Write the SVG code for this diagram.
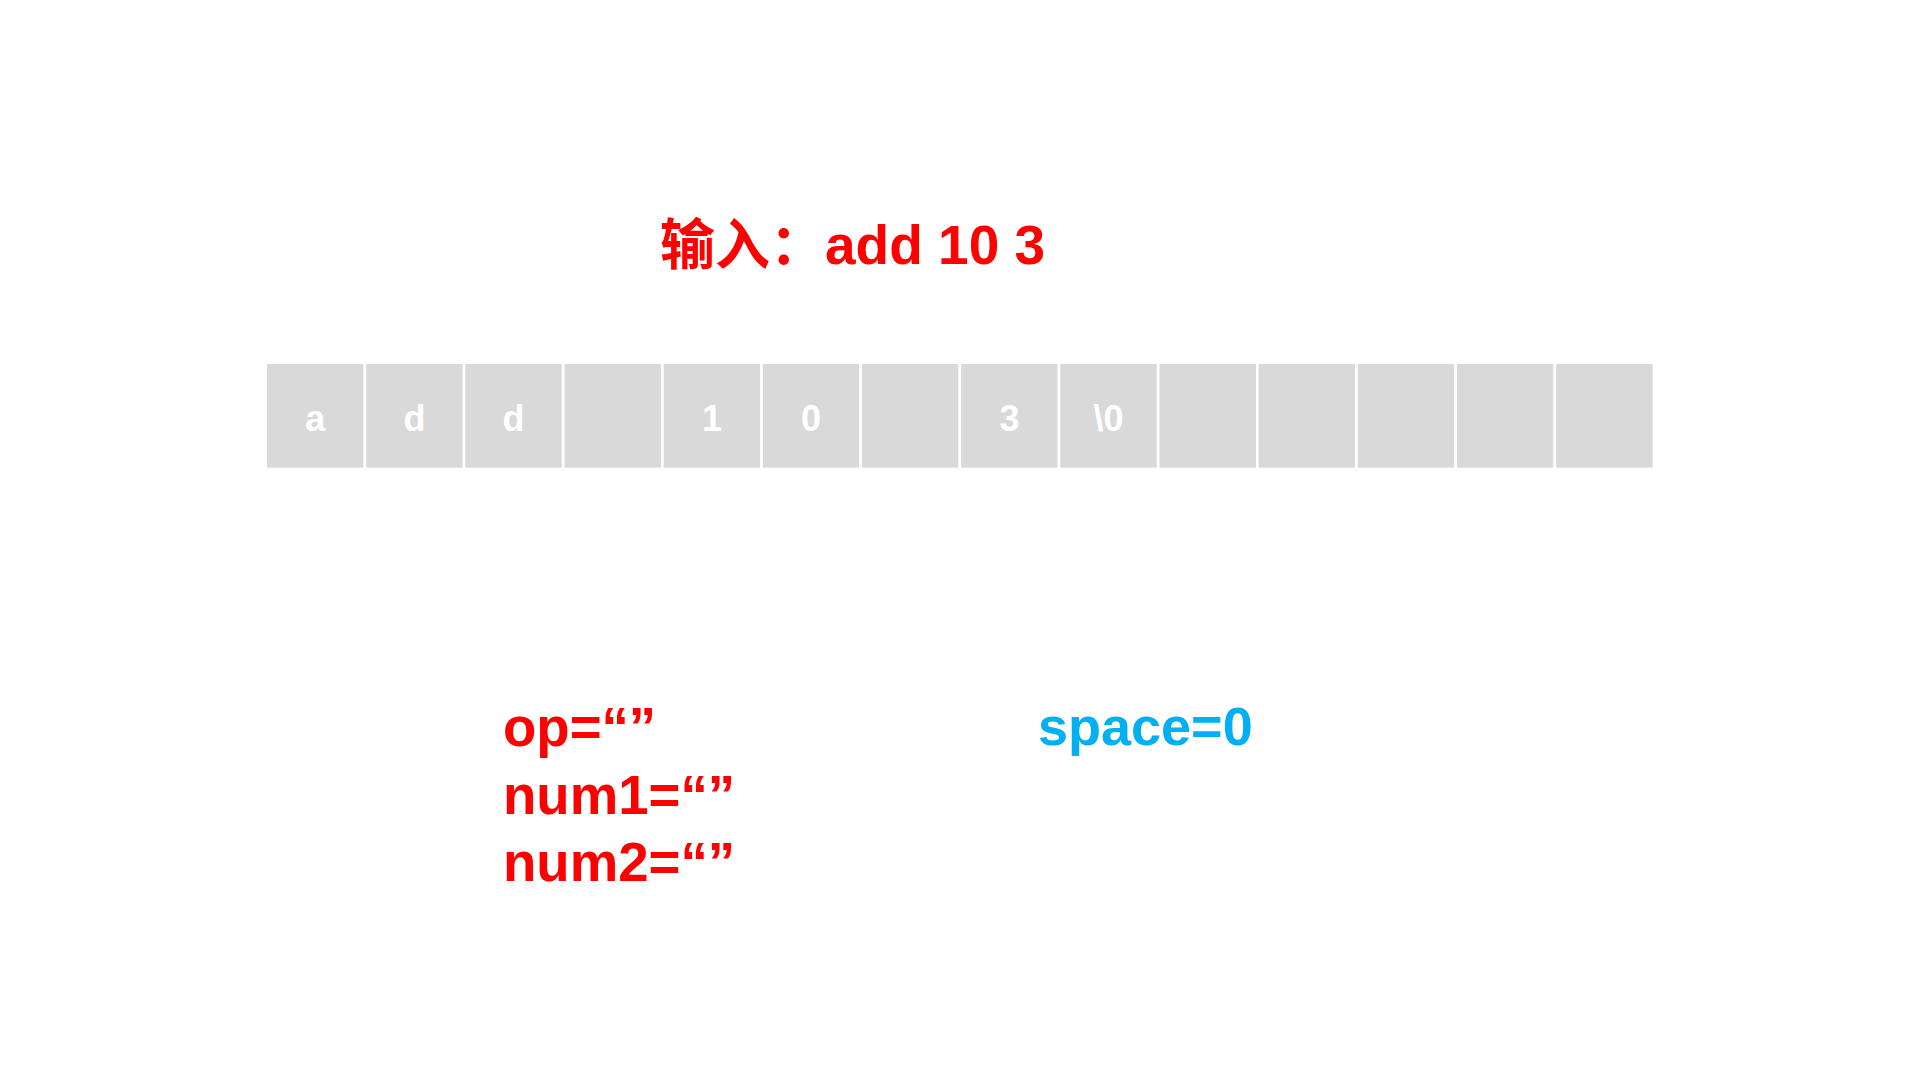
<svg xmlns="http://www.w3.org/2000/svg" width="1920" height="1080" viewBox="0 0 1920 1080">
<style>
.cell{fill:#D9D9D9;stroke:#FFFFFF;stroke-width:2.6}
.ct{font-family:"Liberation Sans","Noto Sans CJK SC",sans-serif;font-weight:bold;font-size:36px;fill:#FFFFFF;text-anchor:middle}
.red{font-family:"Liberation Sans","Noto Sans CJK SC",sans-serif;font-weight:bold;font-size:54.6px;fill:#FF0000}
.blue{font-family:"Liberation Sans","Noto Sans CJK SC",sans-serif;font-weight:bold;font-size:54px;fill:#00B0F0}
.title{font-family:"Liberation Sans","Noto Sans CJK SC",sans-serif;font-weight:bold;font-size:55px;fill:#FF0000}
</style>
<rect width="1920" height="1080" fill="#FFFFFF"/>
<g id="title"><text class="title" x="660" y="264">输入：add 10 3</text></g>
<g id="array">
<g id="cell0"><rect class="cell" x="265.7" y="362.7" width="99.16" height="106.3"/><text class="ct" x="315.3" y="431">a</text></g>
<g id="cell1"><rect class="cell" x="364.86" y="362.7" width="99.16" height="106.3"/><text class="ct" x="414.4" y="431">d</text></g>
<g id="cell2"><rect class="cell" x="464.02" y="362.7" width="99.16" height="106.3"/><text class="ct" x="513.6" y="431">d</text></g>
<g id="cell3"><rect class="cell" x="563.18" y="362.7" width="99.16" height="106.3"/></g>
<g id="cell4"><rect class="cell" x="662.34" y="362.7" width="99.16" height="106.3"/><text class="ct" x="711.9" y="431">1</text></g>
<g id="cell5"><rect class="cell" x="761.5" y="362.7" width="99.16" height="106.3"/><text class="ct" x="811.1" y="431">0</text></g>
<g id="cell6"><rect class="cell" x="860.66" y="362.7" width="99.16" height="106.3"/></g>
<g id="cell7"><rect class="cell" x="959.82" y="362.7" width="99.16" height="106.3"/><text class="ct" x="1009.4" y="431">3</text></g>
<g id="cell8"><rect class="cell" x="1058.98" y="362.7" width="99.16" height="106.3"/><text class="ct" x="1108.6" y="431">\0</text></g>
<g id="cell9"><rect class="cell" x="1158.14" y="362.7" width="99.16" height="106.3"/></g>
<g id="cell10"><rect class="cell" x="1257.3" y="362.7" width="99.16" height="106.3"/></g>
<g id="cell11"><rect class="cell" x="1356.46" y="362.7" width="99.16" height="106.3"/></g>
<g id="cell12"><rect class="cell" x="1455.62" y="362.7" width="99.16" height="106.3"/></g>
<g id="cell13"><rect class="cell" x="1554.78" y="362.7" width="99.16" height="106.3"/></g>
</g>
<g id="vars">
<text class="red" x="503" y="746">op=“”</text>
<text class="red" x="503" y="813.5">num1=“”</text>
<text class="red" x="503" y="881">num2=“”</text>
</g>
<g id="space"><text class="blue" x="1038" y="745">space=0</text></g>
<g id="connectors"/>
</svg>
